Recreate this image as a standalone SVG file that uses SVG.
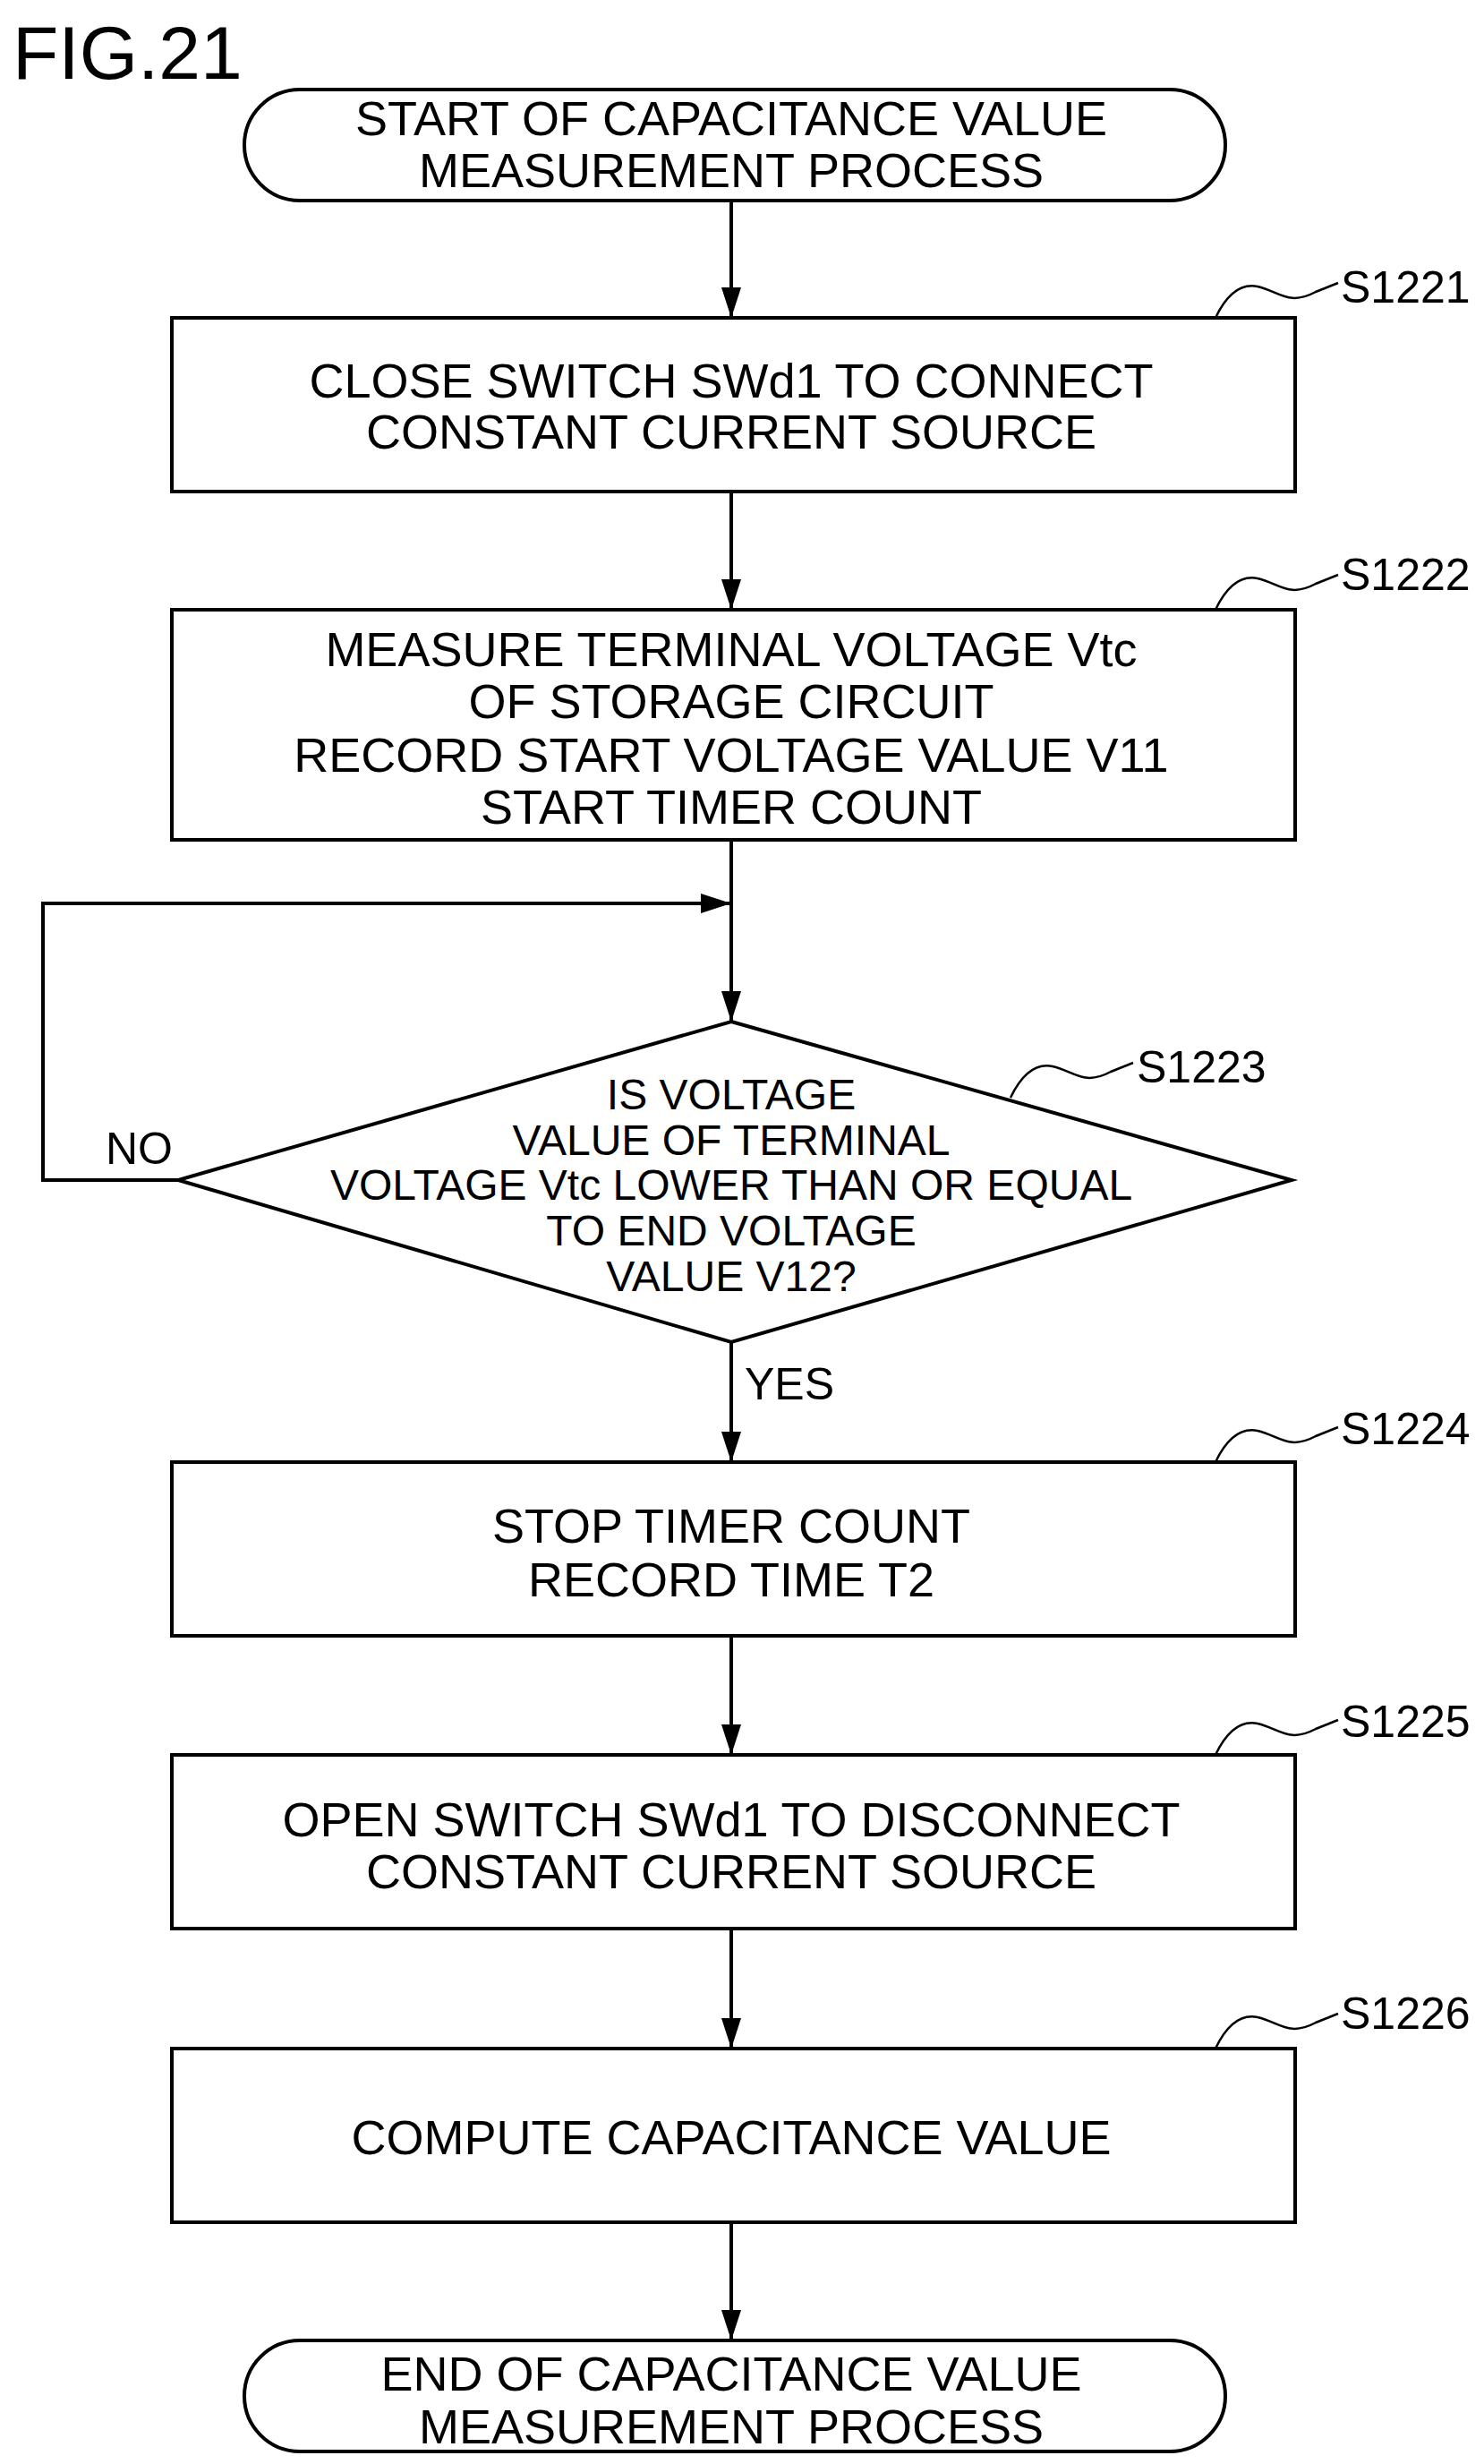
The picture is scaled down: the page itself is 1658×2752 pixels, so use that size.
<svg xmlns="http://www.w3.org/2000/svg" width="1658" height="2752" viewBox="0 0 1658 2752">
<style>
.s{fill:#fff;stroke:#000;stroke-width:4}
.t{font-family:"Liberation Sans",Arial,sans-serif;font-size:54px;text-anchor:middle;fill:#000}
.d{font-family:"Liberation Sans",Arial,sans-serif;font-size:48px;text-anchor:middle;fill:#000}
.l{font-family:"Liberation Sans",Arial,sans-serif;font-size:50px;fill:#000}
.c{fill:none;stroke:#000;stroke-width:4}
.q{fill:none;stroke:#000;stroke-width:2.5}
</style>
<defs>
<marker id="ah" markerWidth="34" markerHeight="22" refX="34" refY="11" orient="auto" markerUnits="userSpaceOnUse" viewBox="0 0 34 22"><path d="M0,0L34,11L0,22z" fill="#000"/></marker></defs>
<rect width="1658" height="2752" fill="#fff"/>
<text x="14" y="88" style="font-family:'Liberation Sans',Arial,sans-serif;font-size:84px">FIG.21</text>
<g id="connectors">
<line class="c" x1="817" y1="224" x2="817" y2="355" marker-end="url(#ah)"/>
<line class="c" x1="817" y1="549" x2="817" y2="681" marker-end="url(#ah)"/>
<line class="c" x1="817" y1="938" x2="817" y2="1141" marker-end="url(#ah)"/>
<polyline class="c" points="199,1318 48,1318 48,1009 817,1009" marker-end="url(#ah)"/>
<line class="c" x1="817" y1="1499" x2="817" y2="1633" marker-end="url(#ah)"/>
<line class="c" x1="817" y1="1827" x2="817" y2="1960" marker-end="url(#ah)"/>
<line class="c" x1="817" y1="2154" x2="817" y2="2288" marker-end="url(#ah)"/>
<line class="c" x1="817" y1="2482" x2="817" y2="2614" marker-end="url(#ah)"/>
<text class="l" x="118" y="1300">NO</text>
<text class="l" x="832" y="1563">YES</text>
</g>
<g id="start"><rect class="s" x="273" y="100" width="1096" height="124" rx="62"/>
<text class="t" x="817" y="151">START OF CAPACITANCE VALUE</text><text class="t" x="817" y="209">MEASUREMENT PROCESS</text></g>
<g id="S1221"><rect class="s" x="192" y="355" width="1255" height="194"/>
<text class="t" x="817" y="444">CLOSE SWITCH SWd1 TO CONNECT</text><text class="t" x="817" y="501">CONSTANT CURRENT SOURCE</text>
<path class="q" d="M1358,355 C1370,330 1385,316 1405,320 C1430,326 1440,342 1470,326 L1495,316"/><text class="l" x="1498" y="338">S1221</text></g>
<g id="S1222"><rect class="s" x="192" y="681" width="1255" height="257"/>
<text class="t" x="817" y="744">MEASURE TERMINAL VOLTAGE Vtc</text><text class="t" x="817" y="802">OF STORAGE CIRCUIT</text><text class="t" x="817" y="862">RECORD START VOLTAGE VALUE V11</text><text class="t" x="817" y="920">START TIMER COUNT</text>
<path class="q" d="M1358,681 C1370,656 1385,642 1405,646 C1430,652 1440,668 1470,652 L1495,642"/><text class="l" x="1498" y="659">S1222</text></g>
<g id="S1223"><polygon class="s" points="817,1141 1443,1318 817,1499 199,1318"/>
<text class="d" x="817" y="1239">IS VOLTAGE</text><text class="d" x="817" y="1290">VALUE OF TERMINAL</text><text class="d" x="817" y="1340">VOLTAGE Vtc LOWER THAN OR EQUAL</text><text class="d" x="817" y="1391">TO END VOLTAGE</text><text class="d" x="817" y="1442">VALUE V12?</text>
<path class="q" d="M1129,1226 C1141,1201 1156,1187 1176,1191 C1201,1197 1211,1213 1241,1197 L1266,1187"/><text class="l" x="1270" y="1209">S1223</text></g>
<g id="S1224"><rect class="s" x="192" y="1633" width="1255" height="194"/>
<text class="t" x="817" y="1723">STOP TIMER COUNT</text><text class="t" x="817" y="1783">RECORD TIME T2</text>
<path class="q" d="M1358,1633 C1370,1608 1385,1594 1405,1598 C1430,1604 1440,1620 1470,1604 L1495,1594"/><text class="l" x="1498" y="1613">S1224</text></g>
<g id="S1225"><rect class="s" x="192" y="1960" width="1255" height="194"/>
<text class="t" x="817" y="2051">OPEN SWITCH SWd1 TO DISCONNECT</text><text class="t" x="817" y="2109">CONSTANT CURRENT SOURCE</text>
<path class="q" d="M1358,1960 C1370,1935 1385,1921 1405,1925 C1430,1931 1440,1947 1470,1931 L1495,1921"/><text class="l" x="1498" y="1940">S1225</text></g>
<g id="S1226"><rect class="s" x="192" y="2288" width="1255" height="194"/>
<text class="t" x="817" y="2406">COMPUTE CAPACITANCE VALUE</text>
<path class="q" d="M1358,2288 C1370,2263 1385,2249 1405,2253 C1430,2259 1440,2275 1470,2259 L1495,2249"/><text class="l" x="1498" y="2266">S1226</text></g>
<g id="end"><rect class="s" x="273" y="2614" width="1096" height="124" rx="62"/>
<text class="t" x="817" y="2670">END OF CAPACITANCE VALUE</text><text class="t" x="817" y="2729">MEASUREMENT PROCESS</text></g>
</svg>
